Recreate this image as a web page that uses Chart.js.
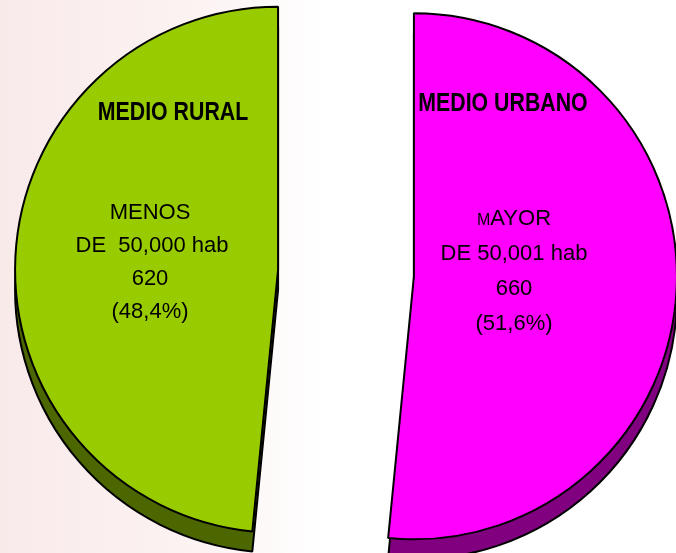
<!DOCTYPE html>
<html>
<head>
<meta charset="utf-8">
<script src="https://cdn.jsdelivr.net/npm/chart.js@4/dist/chart.umd.min.js"></script>
<style>
    html, body { margin: 0; padding: 0; }
    body {
        width: 676px;
        height: 553px;
        overflow: hidden;
        background: linear-gradient(to right, #f9eaea 0%, #fcf3f3 30%, #ffffff 48%, #ffffff 100%);
    }
    #wrap { position: relative; width: 676px; height: 553px; }
</style>
</head>
<body>
<div id="wrap"><canvas id="chart"></canvas></div>
<script>
// Chart data (clockwise from 12 o'clock)
const categories = ['MEDIO URBANO', 'MEDIO RURAL'];
const sizeLabels = [['MAYOR', 'DE 50,001 hab'], ['MENOS', 'DE  50,000 hab']];
const values = [660, 620];
const percentLabels = ['(51,6%)', '(48,4%)'];

const topColors = ['#ff00ff', '#99cc00'];
const sideColors = ['#800080', '#4c6600'];
const DEPTH = 20;     // thickness of the fake 3D side
const EXPLODE = 68;   // how far each slice is pulled out

const TITLE_FONT = 'bold 26px "Liberation Sans", sans-serif';
const TITLE_SQUEEZE = 0.82;
const BODY_FONT = '22px "Liberation Sans", sans-serif';
const SMALL_FONT = '16px "Liberation Sans", sans-serif';

// text anchors: [title x, title y, body x, first body line y]
const labelPlaces = [
    [503, 111, 514, 225],
    [173, 120, 150, 219]
];
const lineGap = [35, 33];

// pulls the slices apart and draws a darker copy underneath for the side
const explodePlugin = {
    id: 'explode3d',
    beforeDatasetDraw(chart, args) {
        const ctx = chart.ctx;
        const arcs = args.meta.data;
        const shift = arc => {
            const half = (arc.startAngle + arc.endAngle) / 2;
            return [Math.cos(half) * EXPLODE, Math.sin(half) * EXPLODE];
        };

        arcs.forEach((arc, i) => {
            const [dx, dy] = shift(arc);
            const saved = arc.options;
            arc.options = Object.assign({}, saved, { backgroundColor: sideColors[i] });
            ctx.save();
            ctx.translate(dx, dy + DEPTH);
            arc.draw(ctx);
            ctx.restore();
            arc.options = saved;
        });

        arcs.forEach(arc => {
            const [dx, dy] = shift(arc);
            ctx.save();
            ctx.translate(dx, dy);
            arc.draw(ctx);
            ctx.restore();
        });
        return false;
    }
};

const labelPlugin = {
    id: 'sliceLabels',
    afterDatasetsDraw(chart) {
        const ctx = chart.ctx;
        ctx.save();
        ctx.fillStyle = '#000';
        ctx.textBaseline = 'alphabetic';
        categories.forEach((name, i) => {
            const [tx, ty, bx, by] = labelPlaces[i];
            const gap = lineGap[i];

            ctx.save();
            ctx.font = TITLE_FONT;
            ctx.textAlign = 'center';
            ctx.translate(tx, ty);
            ctx.scale(TITLE_SQUEEZE, 1);
            ctx.fillText(name, 0, 0);
            ctx.restore();

            // first line: leading letter drawn as a small capital
            const first = sizeLabels[i][0];
            if (i === 0) {
                ctx.font = SMALL_FONT;
                const w1 = ctx.measureText(first[0]).width;
                ctx.font = BODY_FONT;
                const w2 = ctx.measureText(first.slice(1)).width;
                const start = bx - (w1 + w2) / 2;
                ctx.textAlign = 'left';
                ctx.font = SMALL_FONT;
                ctx.fillText(first[0], start, by);
                ctx.font = BODY_FONT;
                ctx.fillText(first.slice(1), start + w1, by);
            } else {
                ctx.font = BODY_FONT;
                ctx.textAlign = 'center';
                ctx.fillText(first, bx, by);
            }

            ctx.font = BODY_FONT;
            ctx.textAlign = 'center';
            ctx.fillText(sizeLabels[i][1], bx + (i === 1 ? 2 : 0), by + gap);
            ctx.fillText(String(values[i]), bx, by + gap * 2);
            ctx.fillText(percentLabels[i], bx, by + gap * 3);
        });
        ctx.restore();
    }
};

function showChart() {
    const canvas = document.getElementById('chart');

    if (!(canvas instanceof HTMLCanvasElement)) {
        throw new TypeError('Cannot load the chart.');
    }

    const data = {
        labels: categories,
        datasets: [{
            data: values,
            backgroundColor: topColors,
            borderColor: '#000',
            borderWidth: 2
        }]
    };

    new Chart(canvas, {
        type: 'pie',
        data: data,
        options: {
            responsive: true,
            maintainAspectRatio: false,
            animation: false,
            events: [],
            radius: 263,
            layout: { padding: { left: 16, right: 0, top: 0, bottom: 7 } },
            plugins: {
                legend: { display: false },
                tooltip: { enabled: false },
                title: { display: false }
            }
        },
        plugins: [explodePlugin, labelPlugin]
    });
}

showChart();
</script>
</body>
</html>
